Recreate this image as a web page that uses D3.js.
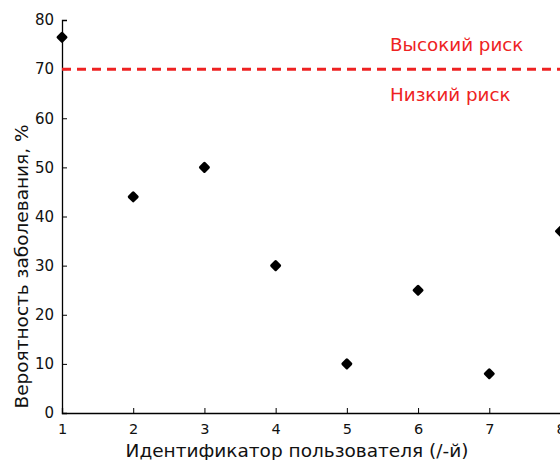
<!DOCTYPE html>
<html>
<head>
<meta charset="utf-8">
<script src="https://cdn.jsdelivr.net/npm/d3@7"></script>
<style>
  body { margin: 0; background: #fff; }
  svg { display: block; font-family: "DejaVu Sans", sans-serif; }
</style>
</head>
<body>
<svg id="chart" width="560" height="460"></svg>
<script>
// user ids and disease probability (%)
const userIds = [1, 2, 3, 4, 5, 6, 7, 8];
const probs = [76.5, 44, 50, 30, 10, 25, 8, 37];
const xTicks = [1, 2, 3, 4, 5, 6, 7, 8];
const yTicks = [0, 10, 20, 30, 40, 50, 60, 70, 80];
const threshold = 70;

const svg = d3.select("#chart");
const m = { left: 62, right: 560.5, top: 20, bottom: 413 };

const x = d3.scaleLinear().domain([1, 8]).range([m.left, m.right]);
const y = d3.scaleLinear().domain([0, 80]).range([m.bottom, m.top]);

// axes, ticks pointing inward
const xAxis = svg.append("g")
  .attr("transform", `translate(0,${m.bottom})`)
  .call(d3.axisTop(x).tickValues(xTicks).tickSize(5).tickFormat(d3.format("d")));
xAxis.selectAll("text").attr("y", 11).attr("dy", "0.71em").style("font-size", "14.5px");

const yAxis = svg.append("g")
  .attr("transform", `translate(${m.left},0)`)
  .call(d3.axisRight(y).tickValues(yTicks).tickSize(5));
yAxis.selectAll("text").attr("x", -8).attr("text-anchor", "end").style("font-size", "15px");

[xAxis, yAxis].forEach(g => {
  g.select(".domain").attr("stroke", "#000").attr("stroke-width", 1.3);
  g.selectAll(".tick line").attr("stroke", "#000");
  g.selectAll("text").attr("fill", "#111").style("font-family", "DejaVu Sans");
});

// threshold line
svg.append("line")
  .attr("x1", m.left).attr("x2", 560)
  .attr("y1", y(threshold)).attr("y2", y(threshold))
  .attr("stroke", "#ee2222").attr("stroke-width", 3)
  .attr("stroke-dasharray", "9,6");

svg.append("text").attr("x", 390).attr("y", 51)
  .attr("fill", "#ee2222").style("font-size", "18.3px").text("Высокий риск");
svg.append("text").attr("x", 390).attr("y", 101)
  .attr("fill", "#ee2222").style("font-size", "18.3px").text("Низкий риск");

// points
svg.append("g").selectAll("path")
  .data(userIds)
  .enter()
  .append("path")
  .attr("d", d3.symbol().type(d3.symbolDiamond2).size(40))
  .attr("transform", (d, i) => `translate(${x(d)},${y(probs[i])})`)
  .attr("fill", "#000").attr("stroke", "#000")
  .attr("stroke-width", 3).attr("stroke-linejoin", "round");

// axis titles
svg.append("text").attr("x", 297).attr("y", 457)
  .attr("text-anchor", "middle").style("font-size", "18.5px").attr("fill", "#111")
  .text("Идентификатор пользователя (/-й)");

svg.append("text")
  .attr("transform", `translate(28,266.5) rotate(-90)`)
  .attr("text-anchor", "middle").style("font-size", "18.5px").attr("fill", "#111")
  .text("Вероятность заболевания, %");
</script>
</body>
</html>
